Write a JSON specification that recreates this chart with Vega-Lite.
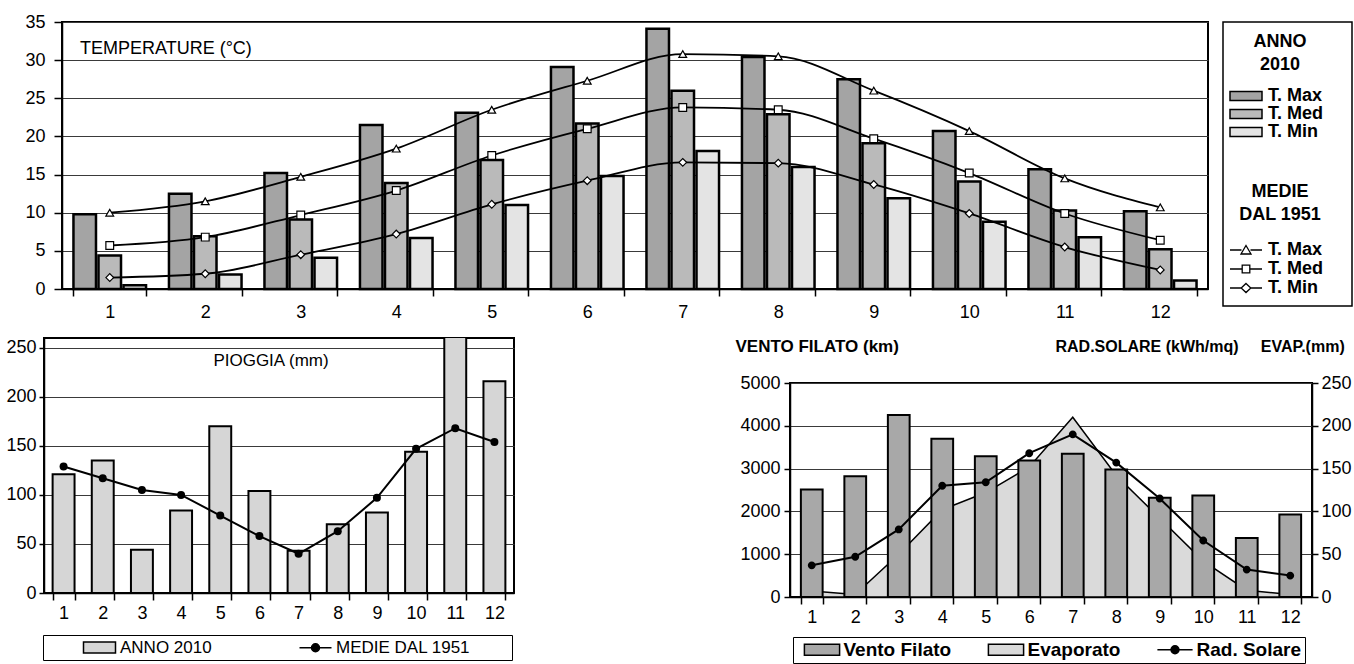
{
  "$schema": "https://vega.github.io/schema/vega-lite/v6.json",
  "background": "white",
  "padding": {"left": 4, "top": 12, "right": 0, "bottom": 0},
  "config": {
    "font": "Liberation Sans",
    "view": {"stroke": "black", "strokeWidth": 2},
    "axis": {"labelFont": "Liberation Sans", "labelFontSize": 18, "labelColor": "black", "domainColor": "black", "domainWidth": 1.5, "tickColor": "black", "tickWidth": 1.5, "titleFont": "Liberation Sans", "titleColor": "black", "gridColor": "#3a3a3a", "gridWidth": 1, "gridOpacity": 1, "format": "d"},
    "title": {"font": "Liberation Sans", "color": "black"},
    "legend": {"labelFont": "Liberation Sans", "titleFont": "Liberation Sans", "labelColor": "black", "titleColor": "black"}
  },
  "datasets": {
    "temp2010": [
      {"mese": 1, "serie": "T. Max", "valore": 9.8}, {"mese": 1, "serie": "T. Med", "valore": 4.4}, {"mese": 1, "serie": "T. Min", "valore": 0.5},
      {"mese": 2, "serie": "T. Max", "valore": 12.5}, {"mese": 2, "serie": "T. Med", "valore": 6.9}, {"mese": 2, "serie": "T. Min", "valore": 1.9},
      {"mese": 3, "serie": "T. Max", "valore": 15.2}, {"mese": 3, "serie": "T. Med", "valore": 9.1}, {"mese": 3, "serie": "T. Min", "valore": 4.1},
      {"mese": 4, "serie": "T. Max", "valore": 21.5}, {"mese": 4, "serie": "T. Med", "valore": 13.9}, {"mese": 4, "serie": "T. Min", "valore": 6.7},
      {"mese": 5, "serie": "T. Max", "valore": 23.1}, {"mese": 5, "serie": "T. Med", "valore": 16.9}, {"mese": 5, "serie": "T. Min", "valore": 11.0},
      {"mese": 6, "serie": "T. Max", "valore": 29.1}, {"mese": 6, "serie": "T. Med", "valore": 21.7}, {"mese": 6, "serie": "T. Min", "valore": 14.8},
      {"mese": 7, "serie": "T. Max", "valore": 34.1}, {"mese": 7, "serie": "T. Med", "valore": 26.0}, {"mese": 7, "serie": "T. Min", "valore": 18.1},
      {"mese": 8, "serie": "T. Max", "valore": 30.4}, {"mese": 8, "serie": "T. Med", "valore": 22.9}, {"mese": 8, "serie": "T. Min", "valore": 16.0},
      {"mese": 9, "serie": "T. Max", "valore": 27.5}, {"mese": 9, "serie": "T. Med", "valore": 19.1}, {"mese": 9, "serie": "T. Min", "valore": 11.9},
      {"mese": 10, "serie": "T. Max", "valore": 20.7}, {"mese": 10, "serie": "T. Med", "valore": 14.1}, {"mese": 10, "serie": "T. Min", "valore": 8.8},
      {"mese": 11, "serie": "T. Max", "valore": 15.7}, {"mese": 11, "serie": "T. Med", "valore": 10.3}, {"mese": 11, "serie": "T. Min", "valore": 6.8},
      {"mese": 12, "serie": "T. Max", "valore": 10.2}, {"mese": 12, "serie": "T. Med", "valore": 5.2}, {"mese": 12, "serie": "T. Min", "valore": 1.1}
    ],
    "tempMedie": [
      {"mese": 1, "serie": "T. Max", "valore": 10.0}, {"mese": 1, "serie": "T. Med", "valore": 5.7}, {"mese": 1, "serie": "T. Min", "valore": 1.5},
      {"mese": 2, "serie": "T. Max", "valore": 11.5}, {"mese": 2, "serie": "T. Med", "valore": 6.8}, {"mese": 2, "serie": "T. Min", "valore": 2.0},
      {"mese": 3, "serie": "T. Max", "valore": 14.7}, {"mese": 3, "serie": "T. Med", "valore": 9.7}, {"mese": 3, "serie": "T. Min", "valore": 4.5},
      {"mese": 4, "serie": "T. Max", "valore": 18.4}, {"mese": 4, "serie": "T. Med", "valore": 12.9}, {"mese": 4, "serie": "T. Min", "valore": 7.2},
      {"mese": 5, "serie": "T. Max", "valore": 23.5}, {"mese": 5, "serie": "T. Med", "valore": 17.5}, {"mese": 5, "serie": "T. Min", "valore": 11.1},
      {"mese": 6, "serie": "T. Max", "valore": 27.3}, {"mese": 6, "serie": "T. Med", "valore": 21.0}, {"mese": 6, "serie": "T. Min", "valore": 14.2},
      {"mese": 7, "serie": "T. Max", "valore": 30.8}, {"mese": 7, "serie": "T. Med", "valore": 23.8}, {"mese": 7, "serie": "T. Min", "valore": 16.6},
      {"mese": 8, "serie": "T. Max", "valore": 30.5}, {"mese": 8, "serie": "T. Med", "valore": 23.5}, {"mese": 8, "serie": "T. Min", "valore": 16.5},
      {"mese": 9, "serie": "T. Max", "valore": 26.0}, {"mese": 9, "serie": "T. Med", "valore": 19.7}, {"mese": 9, "serie": "T. Min", "valore": 13.7},
      {"mese": 10, "serie": "T. Max", "valore": 20.7}, {"mese": 10, "serie": "T. Med", "valore": 15.2}, {"mese": 10, "serie": "T. Min", "valore": 9.9},
      {"mese": 11, "serie": "T. Max", "valore": 14.5}, {"mese": 11, "serie": "T. Med", "valore": 9.9}, {"mese": 11, "serie": "T. Min", "valore": 5.5},
      {"mese": 12, "serie": "T. Max", "valore": 10.7}, {"mese": 12, "serie": "T. Med", "valore": 6.4}, {"mese": 12, "serie": "T. Min", "valore": 2.5}
    ],
    "pioggia": [
      {"mese": 1, "anno2010": 121, "medie": 129},
      {"mese": 2, "anno2010": 135, "medie": 117},
      {"mese": 3, "anno2010": 44, "medie": 105},
      {"mese": 4, "anno2010": 84, "medie": 100},
      {"mese": 5, "anno2010": 170, "medie": 79},
      {"mese": 6, "anno2010": 104, "medie": 58},
      {"mese": 7, "anno2010": 43, "medie": 40},
      {"mese": 8, "anno2010": 70, "medie": 63},
      {"mese": 9, "anno2010": 82, "medie": 97},
      {"mese": 10, "anno2010": 144, "medie": 147},
      {"mese": 11, "anno2010": 270, "medie": 168},
      {"mese": 12, "anno2010": 216, "medie": 154}
    ],
    "vento": [
      {"mese": 1, "vento": 2510, "evap": 7, "rad": 37},
      {"mese": 2, "vento": 2820, "evap": 3, "rad": 47},
      {"mese": 3, "vento": 4250, "evap": 50, "rad": 79},
      {"mese": 4, "vento": 3700, "evap": 102, "rad": 130},
      {"mese": 5, "vento": 3290, "evap": 122, "rad": 134},
      {"mese": 6, "vento": 3190, "evap": 152, "rad": 168},
      {"mese": 7, "vento": 3345, "evap": 210, "rad": 190},
      {"mese": 8, "vento": 2980, "evap": 142, "rad": 157},
      {"mese": 9, "vento": 2320, "evap": 92, "rad": 115},
      {"mese": 10, "vento": 2370, "evap": 42, "rad": 66},
      {"mese": 11, "vento": 1380, "evap": 8, "rad": 32},
      {"mese": 12, "vento": 1930, "evap": 3, "rad": 25}
    ]
  },
  "spacing": 14,
  "resolve": {"scale": {"fill": "independent", "shape": "independent", "color": "independent"}, "legend": {"fill": "independent", "shape": "independent", "color": "independent"}},
  "vconcat": [
    {
      "spacing": -22,
      "resolve": {"scale": {"fill": "independent", "shape": "independent", "color": "independent"}, "legend": {"fill": "independent", "shape": "independent", "color": "independent"}},
      "hconcat": [
        {"width": 1, "height": 1, "view": {"stroke": null}, "data": {"values": []}, "mark": "point"},
        {
          "spacing": 13,
          "resolve": {"scale": {"fill": "independent", "shape": "independent", "color": "independent"}, "legend": {"fill": "independent", "shape": "independent", "color": "independent"}},
          "hconcat": [
            {
              "width": 1146,
              "height": 267,
              "title": {"text": "TEMPERATURE (°C)", "anchor": "start", "frame": "group", "fontSize": 18, "fontWeight": "normal", "dx": 18, "dy": 45, "offset": 0},
              "encoding": {
                "x": {"field": "mese", "type": "ordinal", "scale": {"paddingInner": 0.24, "paddingOuter": 0.12},
                      "axis": {"title": null, "labelAngle": 0, "tickBand": "extent", "tickSize": 7, "labelPadding": 7, "grid": false}},
                "y": {"field": "valore", "type": "quantitative", "scale": {"domain": [0, 35]},
                      "axis": {"title": null, "values": [0, 5, 10, 15, 20, 25, 30, 35], "grid": true, "tickSize": 8, "labelPadding": 9}}
              },
              "layer": [
                {
                  "data": {"name": "temp2010"},
                  "mark": {"type": "bar", "stroke": "black", "strokeWidth": 2.5},
                  "encoding": {
                    "xOffset": {"field": "serie", "type": "nominal", "sort": ["T. Max", "T. Med", "T. Min"], "scale": {"paddingInner": 0.1}},
                    "fill": {"field": "serie", "type": "nominal", "scale": {"domain": ["T. Max", "T. Med", "T. Min"], "range": ["#a4a4a4", "#bababa", "#e4e4e4"]}, "legend": null}
                  }
                },
                {
                  "data": {"name": "tempMedie"},
                  "mark": {"type": "line", "color": "black", "strokeWidth": 1.8, "interpolate": "monotone"},
                  "encoding": {
                    "detail": {"field": "serie"}
                  }
                },
                {
                  "data": {"name": "tempMedie"},
                  "mark": {"type": "point", "filled": true, "fill": "white", "stroke": "black", "strokeWidth": 1.2, "size": 60, "opacity": 1},
                  "encoding": {
                    "shape": {"field": "serie", "type": "nominal", "scale": {"domain": ["T. Max", "T. Med", "T. Min"], "range": ["triangle-up", "square", "diamond"]}, "legend": null}
                  }
                }
              ]
            },
            {
              "width": 129,
              "height": 284,
              "view": {"stroke": "black", "strokeWidth": 1.5},
              "data": {"values": []},
              "resolve": {"scale": {"fill": "independent", "shape": "independent"}, "legend": {"fill": "independent", "shape": "independent"}},
              "layer": [
                {
                  "layer": [
                    {
                      "mark": {"type": "bar", "stroke": "black", "strokeWidth": 1.5},
                      "encoding": {
                        "fill": {"field": "serie", "type": "nominal",
                                 "scale": {"domain": ["T. Max", "T. Med", "T. Min"], "range": ["#a4a4a4", "#bababa", "#e4e4e4"]},
                                 "legend": {"title": ["ANNO", "2010"], "orient": "none", "legendX": 14, "legendY": 11, "padding": 0,
                                            "titleAnchor": "middle", "titleAlign": "center", "titleFontSize": 18, "titleFontWeight": "bold", "titleLineHeight": 23, "titlePadding": 13,
                                            "labelFontSize": 18, "labelFontWeight": "bold", "labelOffset": 13,
                                            "symbolSize": 100, "symbolStrokeColor": "black", "symbolStrokeWidth": 1.5, "rowPadding": 0}}
                      }
                    },
                    {
                      "mark": {"type": "point", "filled": true, "opacity": 1, "size": 100},
                      "encoding": {
                        "fill": {"field": "serie", "type": "nominal"},
                        "shape": {"field": "serie", "type": "nominal",
                                  "scale": {"domain": ["T. Max", "T. Med", "T. Min"], "range": ["M-3.2,-0.9H3.2V0.9H-3.2Z", "M-3.2,-0.9H3.2V0.9H-3.2Z", "M-3.2,-0.9H3.2V0.9H-3.2Z"]},
                                  "legend": {"title": ["ANNO", "2010"], "orient": "none", "legendX": 14, "legendY": 11, "padding": 0,
                                            "titleAnchor": "middle", "titleAlign": "center", "titleFontSize": 18, "titleFontWeight": "bold", "titleLineHeight": 23, "titlePadding": 13,
                                            "labelFontSize": 18, "labelFontWeight": "bold", "labelOffset": 13,
                                            "symbolSize": 100, "symbolStrokeColor": "black", "symbolStrokeWidth": 1.5, "rowPadding": 0}}
                      }
                    }
                  ]
                },
                {
                  "layer": [
                    {
                      "mark": {"type": "bar", "stroke": "black", "strokeWidth": 1.3},
                      "encoding": {
                        "fill": {"field": "linea", "type": "nominal",
                                 "scale": {"domain": ["T. Max ", "T. Med ", "T. Min "], "range": ["white", "white", "white"]},
                                 "legend": {"title": ["MEDIE", "DAL 1951"], "orient": "none", "legendX": 14, "legendY": 161, "padding": 0,
                                            "titleAnchor": "middle", "titleAlign": "center", "titleFontSize": 18, "titleFontWeight": "bold", "titleLineHeight": 23, "titlePadding": 17,
                                            "labelFontSize": 18, "labelFontWeight": "bold", "labelOffset": 13,
                                            "symbolSize": 100, "symbolStrokeColor": "black", "symbolStrokeWidth": 1.3, "rowPadding": 1}}
                      }
                    },
                    {
                      "mark": {"type": "point", "filled": true, "opacity": 1, "size": 100},
                      "encoding": {
                        "fill": {"field": "linea", "type": "nominal"},
                        "shape": {"field": "linea", "type": "nominal",
                                  "scale": {"domain": ["T. Max ", "T. Med ", "T. Min "],
                                            "range": ["M-3.2,0H-0.9M0.9,0H3.2M0,-0.9L1,0.8H-1Z", "M-3.2,0H-0.76M0.76,0H3.2M-0.76,-0.76H0.76V0.76H-0.76Z", "M-3.2,0H-0.96M0.96,0H3.2M0,-0.9L0.96,0L0,0.9L-0.96,0Z"]},
                                  "legend": {"title": ["MEDIE", "DAL 1951"], "orient": "none", "legendX": 14, "legendY": 161, "padding": 0,
                                            "titleAnchor": "middle", "titleAlign": "center", "titleFontSize": 18, "titleFontWeight": "bold", "titleLineHeight": 23, "titlePadding": 17,
                                            "labelFontSize": 18, "labelFontWeight": "bold", "labelOffset": 13,
                                            "symbolSize": 100, "symbolStrokeColor": "black", "symbolStrokeWidth": 1.3, "rowPadding": 1}}
                      }
                    }
                  ]
                }
              ]
            }
          ]
        }
      ]
    },
    {
      "spacing": 219,
      "resolve": {"scale": {"fill": "independent", "shape": "independent", "color": "independent"}, "legend": {"fill": "independent", "shape": "independent", "color": "independent"}},
      "hconcat": [
        {
          "width": 470,
          "height": 255,
          "title": {"text": "PIOGGIA (mm)", "anchor": "middle", "frame": "group", "fontSize": 17, "fontWeight": "normal", "dx": -8, "dy": 32, "offset": 0},
          "data": {"name": "pioggia"},
          "encoding": {
            "x": {"field": "mese", "type": "ordinal", "scale": {"paddingInner": 0.44, "paddingOuter": 0.22},
                  "axis": {"title": null, "labelAngle": 0, "tickBand": "extent", "tickSize": 7, "labelPadding": 4, "grid": false}}
          },
          "layer": [
            {
              "mark": {"type": "bar", "stroke": "black", "strokeWidth": 2, "clip": true},
              "encoding": {
                "y": {"field": "anno2010", "type": "quantitative", "scale": {"domain": [0, 250]},
                      "axis": {"title": null, "values": [0, 50, 100, 150, 200, 250], "grid": true, "tickSize": 5, "labelPadding": 3}},
                "fill": {"datum": "ANNO 2010", "type": "nominal",
                         "scale": {"domain": ["ANNO 2010", "MEDIE DAL 1951"], "range": ["#d6d6d6", "black"]},
                         "legend": {"title": " ", "titleOrient": "right", "titlePadding": 38, "titleFontSize": 17,
                                    "orient": "none", "legendX": -1, "legendY": 297, "direction": "horizontal",
                                    "strokeColor": "black", "padding": 4, "labelFontSize": 17, "labelOffset": 56, "columnPadding": 51,
                                    "symbolSize": 100, "symbolStrokeColor": "black", "symbolStrokeWidth": 1.5}}
              }
            },
            {
              "mark": {"type": "line", "color": "black", "strokeWidth": 2},
              "encoding": {
                "y": {"field": "medie", "type": "quantitative"}
              }
            },
            {
              "mark": {"type": "point", "filled": true, "size": 64, "opacity": 1},
              "encoding": {
                "y": {"field": "medie", "type": "quantitative"},
                "fill": {"datum": "MEDIE DAL 1951", "type": "nominal"}
              }
            },
            {
              "data": {"values": []},
              "mark": {"type": "point", "filled": true, "size": 100, "opacity": 1},
              "encoding": {
                "fill": {"datum": "MEDIE DAL 1951", "type": "nominal"},
                "shape": {"datum": "MEDIE DAL 1951", "type": "nominal",
                          "scale": {"domain": ["ANNO 2010", "MEDIE DAL 1951"],
                                    "range": ["M5.6,-1.1H12V1.1H5.6Z", "M5.6,0H12M9.6,0A0.8,0.8 0 1,1 8,0A0.8,0.8 0 1,1 9.6,0Z"]},
                          "legend": {"title": " ", "titleOrient": "right", "titlePadding": 38, "titleFontSize": 17,
                                    "orient": "none", "legendX": -1, "legendY": 297, "direction": "horizontal",
                                    "strokeColor": "black", "padding": 4, "labelFontSize": 17, "labelOffset": 56, "columnPadding": 51,
                                    "symbolSize": 100, "symbolStrokeColor": "black", "symbolStrokeWidth": 1.5}}
              }
            }
          ]
        },
        {
          "spacing": -3,
          "resolve": {"scale": {"fill": "independent", "shape": "independent", "color": "independent"}, "legend": {"fill": "independent", "shape": "independent", "color": "independent"}},
          "vconcat": [
            {"width": 1, "height": 1, "view": {"stroke": null}, "data": {"values": []}, "mark": "point"},
            {
              "width": 522,
              "height": 214,
              "data": {"name": "vento"},
              "encoding": {
                "x": {"field": "mese", "type": "ordinal", "scale": {"paddingInner": 0.5, "paddingOuter": 0.25},
                      "axis": {"title": null, "labelAngle": 0, "tickBand": "extent", "tickSize": 7, "labelPadding": 4, "grid": false}}
              },
              "resolve": {"scale": {"y": "independent"}},
              "layer": [
                {
                  "mark": {"type": "area", "opacity": 1, "stroke": "black", "strokeWidth": 1.5},
                  "encoding": {
                    "y": {"field": "evap", "type": "quantitative", "scale": {"domain": [0, 250]},
                          "axis": {"orient": "right", "values": [0, 50, 100, 150, 200, 250], "grid": false, "tickSize": 6, "labelPadding": 3,
                                   "title": "RAD.SOLARE (kWh/mq)\u00a0\u00a0\u00a0\u00a0\u00a0EVAP.(mm)", "titleAngle": 0, "titleAlign": "left", "titleBaseline": "middle",
                                   "titleX": -257, "titleY": -37, "titleFontSize": 16, "titleFontWeight": "bold"}},
                    "fill": {"datum": "Evaporato", "type": "nominal",
                             "scale": {"domain": ["Vento Filato", "Evaporato", "Rad. Solare"], "range": ["#a8a8a8", "#dadada", "black"]},
                             "legend": {"title": " ", "titleOrient": "left", "titlePadding": 16.5, "titleFontSize": 17,
                                        "orient": "none", "legendX": 3, "legendY": 254, "direction": "horizontal",
                                        "strokeColor": "black", "padding": 3, "labelFontSize": 19, "labelFontWeight": "bold", "labelOffset": 12, "columnPadding": 33,
                                        "symbolSize": 121, "symbolStrokeColor": "black", "symbolStrokeWidth": 1.5}}
                  }
                },
                {
                  "mark": {"type": "bar", "stroke": "black", "strokeWidth": 2},
                  "encoding": {
                    "y": {"field": "vento", "type": "quantitative", "scale": {"domain": [0, 5000]},
                          "axis": {"orient": "left", "values": [0, 1000, 2000, 3000, 4000, 5000], "grid": true, "tickSize": 6, "labelPadding": 4,
                                   "title": "VENTO FILATO (km)", "titleAngle": 0, "titleAlign": "left", "titleBaseline": "middle",
                                   "titleX": -55, "titleY": -37, "titleFontSize": 17, "titleFontWeight": "bold"}},
                    "fill": {"datum": "Vento Filato", "type": "nominal"}
                  }
                },
                {
                  "mark": {"type": "line", "color": "black", "strokeWidth": 2},
                  "encoding": {
                    "y": {"field": "rad", "type": "quantitative", "scale": {"domain": [0, 250]}, "axis": null}
                  }
                },
                {
                  "mark": {"type": "point", "filled": true, "size": 120, "opacity": 1},
                  "encoding": {
                    "y": {"field": "rad", "type": "quantitative", "scale": {"domain": [0, 250]}, "axis": null},
                    "fill": {"datum": "Rad. Solare", "type": "nominal"},
                    "shape": {"datum": "Rad. Solare", "type": "nominal",
                              "scale": {"domain": ["Vento Filato", "Evaporato", "Rad. Solare"],
                                        "range": ["M-3.2,-1H3.2V1H-3.2Z", "M-3.2,-1H3.2V1H-3.2Z", "M-3.2,0H3.2M0.72,0A0.72,0.72 0 1,1 -0.72,0A0.72,0.72 0 1,1 0.72,0Z"]},
                              "legend": {"title": " ", "titleOrient": "left", "titlePadding": 16.5, "titleFontSize": 17,
                                        "orient": "none", "legendX": 3, "legendY": 254, "direction": "horizontal",
                                        "strokeColor": "black", "padding": 3, "labelFontSize": 19, "labelFontWeight": "bold", "labelOffset": 12, "columnPadding": 33,
                                        "symbolSize": 121, "symbolStrokeColor": "black", "symbolStrokeWidth": 1.5}}
                  }
                }
              ]
            }
          ]
        }
      ]
    }
  ]
}
